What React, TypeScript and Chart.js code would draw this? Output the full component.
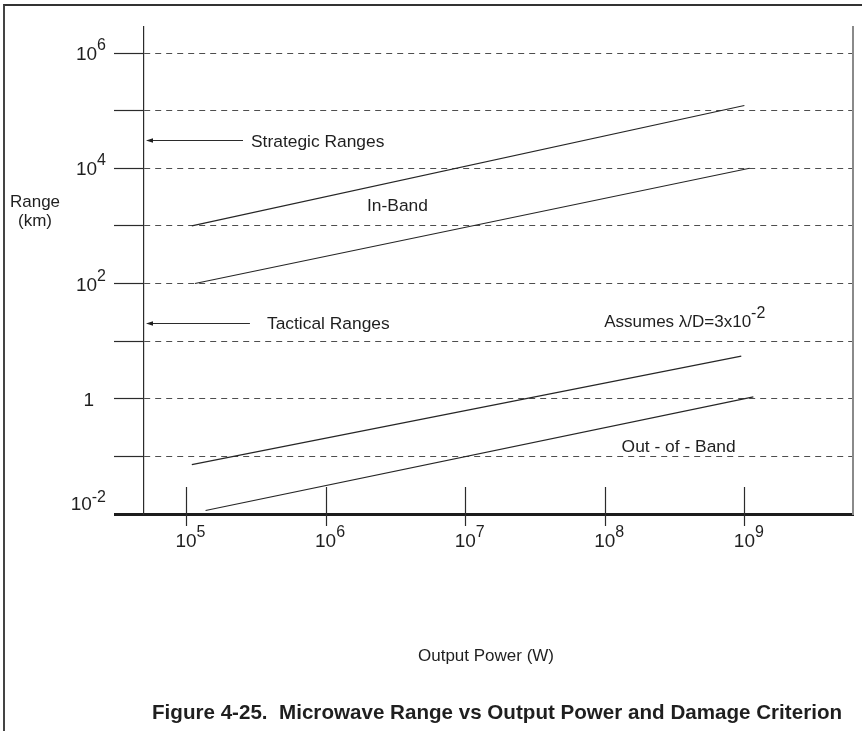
import React, { useEffect, useRef } from 'react';
import { Chart, registerables } from 'chart.js';

Chart.register(...registerables);

// ---- Axes (log10 exponents) ----
const rangeExponents = [-2, -1, 0, 1, 2, 3, 4, 5, 6];
const labeledRangeExponents = [-2, 0, 2, 4, 6];
const powerExponents = [5, 6, 7, 8, 9];
const powerMin = 5e4;
const powerMax = 6e9;
const rangeMin = 1e-2;
const rangeMax = 2.83e6;

// ---- Series (Output Power W, Range km) ----
const inBandStrategicPower = [1.1e5, 1.0e9];
const inBandStrategicRange = [1.0e3, 1.23e5];
const inBandTacticalPower = [1.16e5, 1.09e9];
const inBandTacticalRange = [1.0e2, 1.0e4];
const outBandUpperPower = [1.1e5, 9.5e8];
const outBandUpperRange = [0.072, 5.5];
const outBandLowerPower = [1.38e5, 1.16e9];
const outBandLowerRange = [0.0115, 1.08];

// ---- Annotations (anchored in data space) ----
const annotationTexts = ['Strategic Ranges', 'Tactical Ranges', 'In-Band', 'Out - of - Band'];
const annotationPower = [2.92e5, 3.8e5, 1.98e6, 1.32e8];
const annotationRange = [2.34e4, 16.2, 1.81e3, 0.119];
const arrowRange = [3.09e4, 20.7];
const arrowEndPower = [2.56e5, 2.87e5];
const noteText = 'Assumes \u03bb/D=3x10';
const noteSup = '-2';
const notePower = 9.9e7;
const noteRange = 17.6;

const yTitleLines = ['Range', '(km)'];
const xTitle = 'Output Power (W)';
const caption = 'Figure 4-25.  Microwave Range vs Output Power and Damage Criterion';

const FONT = '"Liberation Sans", Arial, Helvetica, sans-serif';
const INK = '#1f1f1f';

function pts(xs: number[], ys: number[]) {
  return xs.map((x, i) => ({ x, y: ys[i] }));
}

function lineDs(label: string, xs: number[], ys: number[]) {
  return {
    label,
    data: pts(xs, ys),
    showLine: true,
    borderColor: '#262626',
    borderWidth: 1.2,
    pointRadius: 0,
    fill: false,
  };
}

function supWidths(ctx: CanvasRenderingContext2D, base: string, sup: string, baseSize: number, supSize: number) {
  ctx.font = `${baseSize}px ${FONT}`;
  const bw = ctx.measureText(base).width;
  ctx.font = `${supSize}px ${FONT}`;
  const sw = sup ? ctx.measureText(sup).width : 0;
  return { bw, sw };
}

function drawSup(
  ctx: CanvasRenderingContext2D,
  base: string,
  sup: string,
  left: number,
  baseline: number,
  baseSize: number,
  supSize: number,
  rise: number
) {
  ctx.textAlign = 'left';
  ctx.textBaseline = 'alphabetic';
  ctx.font = `${baseSize}px ${FONT}`;
  ctx.fillText(base, left, baseline);
  const bw = ctx.measureText(base).width;
  if (sup) {
    ctx.font = `${supSize}px ${FONT}`;
    ctx.fillText(sup, left + bw, baseline - rise);
  }
}

const figurePlugin = {
  id: 'figure',
  afterDraw(chart: any) {
    const { ctx, chartArea, scales } = chart;
    const xs = scales.x;
    const ys = scales.y;
    ctx.save();
    ctx.fillStyle = INK;
    ctx.strokeStyle = '#2b2b2b';

    // x tick marks crossing the axis
    ctx.lineWidth = 1.2;
    xs.ticks.forEach((t: any) => {
      const px = Math.round(xs.getPixelForValue(t.value)) + 0.5;
      ctx.beginPath();
      ctx.moveTo(px, chartArea.bottom - 27);
      ctx.lineTo(px, chartArea.bottom + 12);
      ctx.stroke();
    });

    // x tick labels
    xs.ticks.forEach((t: any) => {
      const e = Math.round(Math.log10(t.value));
      const px = xs.getPixelForValue(t.value);
      const { bw } = supWidths(ctx, '10', String(e), 19, 16);
      drawSup(ctx, '10', String(e), px - bw / 2, chartArea.bottom + 33, 19, 16, 10);
    });

    // y tick labels
    ys.ticks.forEach((t: any) => {
      const e = Math.round(Math.log10(t.value));
      if (!labeledRangeExponents.includes(e)) return;
      const py = ys.getPixelForValue(t.value);
      const isMin = Math.abs(t.value - rangeMin) < 1e-12;
      const baseline = isMin ? py - 4 : py + 7;
      if (e === 0) {
        ctx.font = `19px ${FONT}`;
        ctx.textAlign = 'right';
        ctx.textBaseline = 'alphabetic';
        ctx.fillText('1', chartArea.left - 50, baseline);
        return;
      }
      const { bw, sw } = supWidths(ctx, '10', String(e), 19, 16);
      drawSup(ctx, '10', String(e), chartArea.left - 38 - bw - sw, baseline, 19, 16, isMin ? 8 : 10);
    });

    // y title
    ctx.font = `17px ${FONT}`;
    ctx.textAlign = 'center';
    ctx.textBaseline = 'alphabetic';
    const yTitleY = ys.getPixelForValue(1e3) - 19;
    ctx.fillText(yTitleLines[0], 35, yTitleY);
    ctx.fillText(yTitleLines[1], 35, yTitleY + 19);

    // x title
    ctx.fillText(xTitle, chartArea.left + 342, chartArea.bottom + 147);

    // caption
    ctx.font = `bold 20.6px ${FONT}`;
    ctx.textAlign = 'left';
    ctx.fillText(caption, 152, chartArea.bottom + 205);

    // arrows
    ctx.lineWidth = 1;
    arrowRange.forEach((r, i) => {
      const py = Math.round(ys.getPixelForValue(r)) + 0.5;
      const x0 = chartArea.left + 2;
      const x1 = xs.getPixelForValue(arrowEndPower[i]);
      ctx.beginPath();
      ctx.moveTo(x0 + 4, py);
      ctx.lineTo(x1, py);
      ctx.stroke();
      ctx.beginPath();
      ctx.moveTo(x0, py);
      ctx.lineTo(x0 + 7, py - 2.2);
      ctx.lineTo(x0 + 7, py + 2.2);
      ctx.closePath();
      ctx.fill();
    });

    // annotations
    ctx.font = `17.4px ${FONT}`;
    ctx.textAlign = 'left';
    ctx.textBaseline = 'alphabetic';
    annotationTexts.forEach((txt, i) => {
      ctx.fillText(txt, xs.getPixelForValue(annotationPower[i]), ys.getPixelForValue(annotationRange[i]));
    });
    drawSup(ctx, noteText, noteSup, xs.getPixelForValue(notePower), ys.getPixelForValue(noteRange), 17, 16, 9);

    ctx.restore();
  },
};

export default function App() {
  const ref = useRef<HTMLCanvasElement>(null);

  useEffect(() => {
    const canvas = ref.current;
    if (!canvas) return;
    const chart = new Chart(canvas, {
      type: 'scatter',
      data: {
        datasets: [
          lineDs('In-Band (strategic)', inBandStrategicPower, inBandStrategicRange),
          lineDs('In-Band (tactical)', inBandTacticalPower, inBandTacticalRange),
          lineDs('Out-of-Band (upper)', outBandUpperPower, outBandUpperRange),
          lineDs('Out-of-Band (lower)', outBandLowerPower, outBandLowerRange),
        ] as any,
      },
      options: {
        responsive: false,
        animation: false,
        events: [],
        layout: { padding: { left: 114, right: 9, top: 27, bottom: 217 } },
        plugins: { legend: { display: false }, tooltip: { enabled: false } },
        scales: {
          x: {
            type: 'logarithmic',
            position: 'bottom',
            min: powerMin,
            max: powerMax,
            afterBuildTicks: (s: any) => {
              s.ticks = powerExponents.map((e) => ({ value: Math.pow(10, e) }));
            },
            ticks: { display: false },
            grid: { display: false, drawTicks: false },
            border: { display: true, color: '#1c1c1c', width: 3 },
          },
          y: {
            type: 'logarithmic',
            position: 'left',
            min: rangeMin,
            max: rangeMax,
            afterBuildTicks: (s: any) => {
              s.ticks = rangeExponents.map((e) => ({ value: Math.pow(10, e) }));
            },
            ticks: { display: false },
            grid: {
              display: true,
              drawOnChartArea: true,
              drawTicks: true,
              tickLength: 30,
              color: '#4e4e4e',
              lineWidth: 1,
              tickColor: (c: any) => (c.tick && Math.abs(c.tick.value - rangeMin) < 1e-12 ? '#1c1c1c' : '#2b2b2b'),
              tickWidth: (c: any) => (c.tick && Math.abs(c.tick.value - rangeMin) < 1e-12 ? 3 : 1.2),
              tickBorderDash: [],
            },
            border: { display: true, color: '#2b2b2b', width: 1.2, dash: [6, 5] },
          },
          yRight: {
            type: 'linear',
            position: 'right',
            min: 0,
            max: 1,
            ticks: { display: false },
            grid: { display: false, drawTicks: false },
            border: { display: true, color: '#8a8a8a', width: 2 },
          },
        },
      } as any,
      plugins: [figurePlugin],
    });
    return () => chart.destroy();
  }, []);

  return (
    <div style={{ position: 'absolute', left: 0, top: 0, width: 862, height: 731, overflow: 'hidden', background: '#fff' }}>
      <div
        style={{
          position: 'absolute',
          left: 3,
          top: 4,
          right: 0,
          bottom: 0,
          borderTop: '2px solid #333',
          borderLeft: '2px solid #444',
        }}
      />
      <canvas ref={ref} width={862} height={731} style={{ position: 'absolute', left: 0, top: 0 }} />
    </div>
  );
}
